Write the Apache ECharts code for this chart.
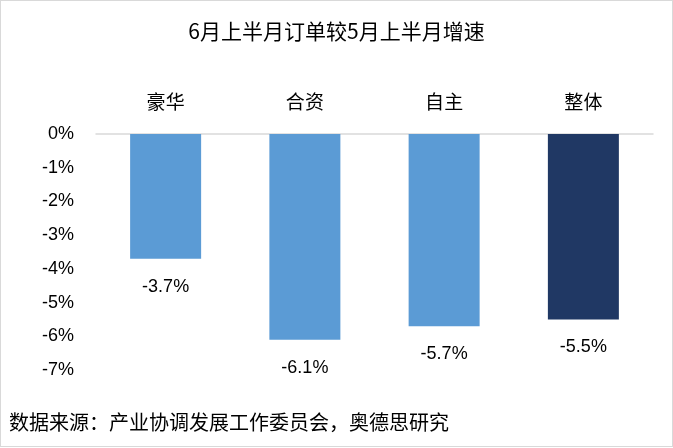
<!DOCTYPE html>
<html><head><meta charset="utf-8">
<script src="https://cdn.jsdelivr.net/npm/echarts@6/dist/echarts.min.js"></script>
<style>html,body{margin:0;padding:0;background:#fff}
#wrap{position:absolute;left:0;top:0;width:671px;height:445px;border:1px solid #d9d9d9}
#chart1{width:671px;height:445px}</style>
</head><body>
<div id="wrap"><div id="chart1"></div></div>
<script>
var categories = ['豪华', '合资', '自主', '整体'];
var values = [-3.7, -6.1, -5.7, -5.5];
var colors = ['#5b9bd5', '#5b9bd5', '#5b9bd5', '#203864'];

var myChart = echarts.init(document.getElementById('chart1'));
var font = '"Microsoft YaHei","Noto Sans CJK SC",sans-serif';
var option = {
 animation: false,
 title: {
  text: '6月上半月订单较5月上半月增速',
  left: 'center', top: 15,
  textStyle: {fontSize: 21, fontWeight: 'normal', color: '#000', fontFamily: font}
 },
 graphic: [{
  type: 'text', left: 8, top: 411,
  style: {text: '数据来源：产业协调发展工作委员会，奥德思研究', fontSize: 20, fill: '#000', fontFamily: font}
 }],
 grid: {left: 95, right: 19, top: 133, bottom: 76},
 xAxis: {
  type: 'category', position: 'top', data: categories,
  axisLine: {lineStyle: {color: '#d9d9d9', width: 1.5}},
  axisTick: {show: false},
  axisLabel: {fontSize: 19, color: '#000', margin: 23, fontFamily: font}
 },
 yAxis: {
  type: 'value', min: -7, max: 0, interval: 1,
  splitLine: {show: false},
  axisLabel: {formatter: '{value}%', fontSize: 18, color: '#000', margin: 22, fontFamily: 'Arial,"Liberation Sans",sans-serif'}
 },
 series: [{
  type: 'bar', barWidth: 71,
  data: values.map(function (v, i) { return {value: v, itemStyle: {color: colors[i]}}; }),
  label: {show: true, position: 'bottom', distance: 19, formatter: function (p) { return p.value.toFixed(1) + '%'; },
   fontSize: 18, color: '#000', fontFamily: 'Arial,"Liberation Sans",sans-serif'}
 }]
};
myChart.setOption(option);
</script>
</body></html>
